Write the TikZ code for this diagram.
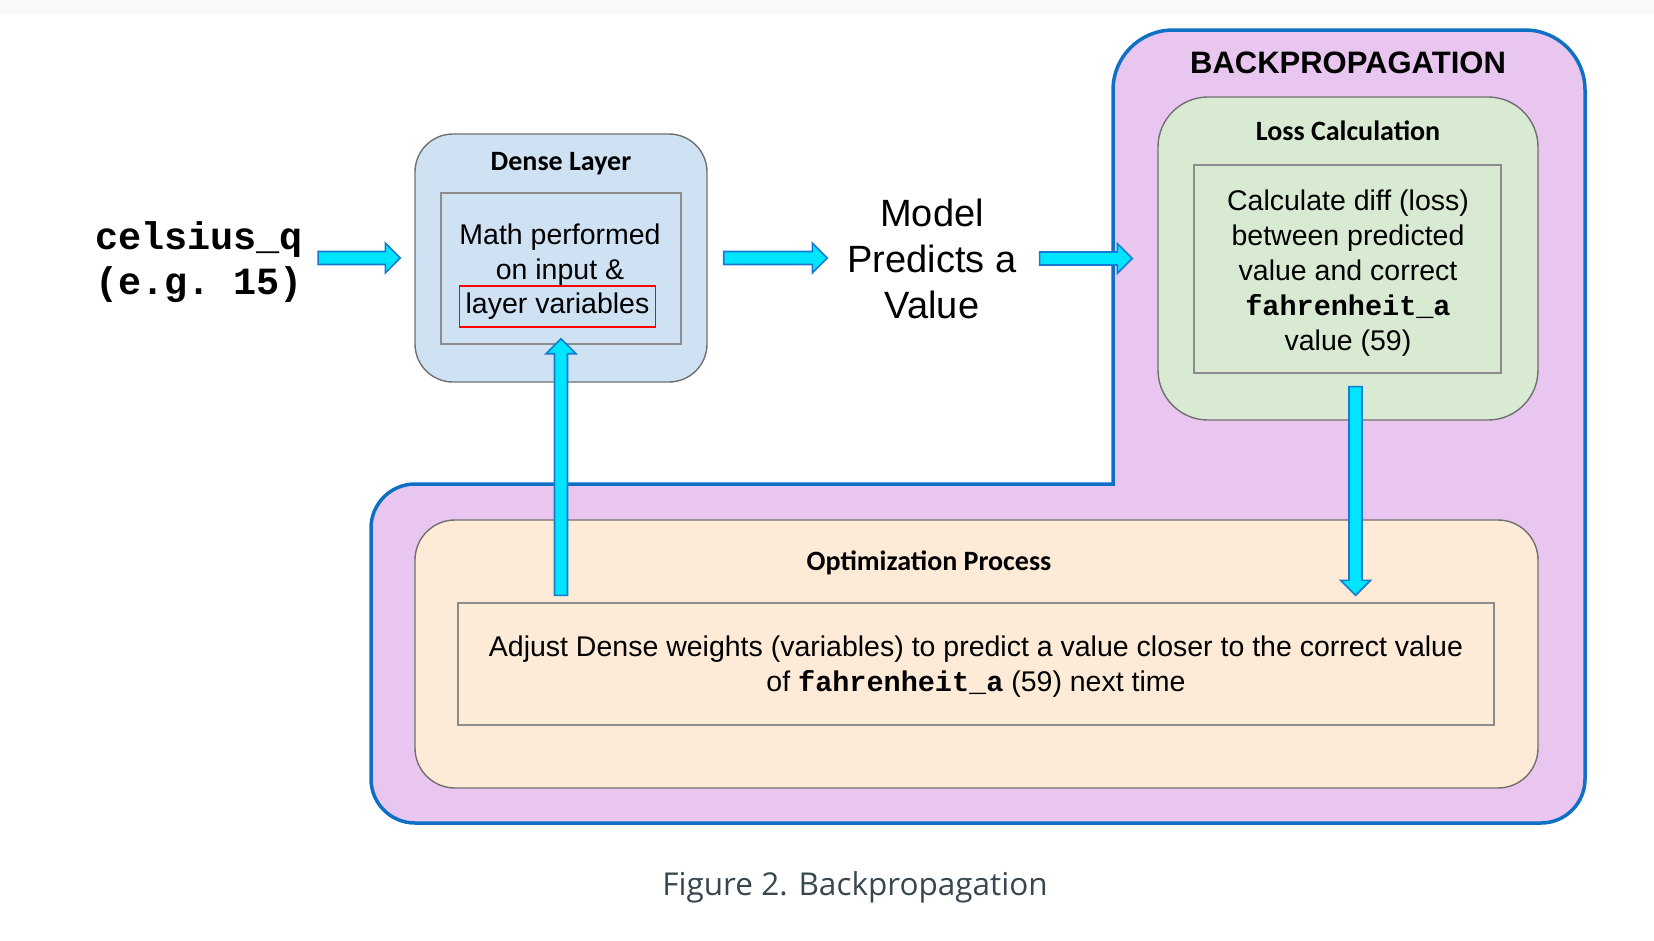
\documentclass[tikz,border=0pt]{standalone}
\usepackage{fontspec}
\setmainfont{Liberation Sans}
\setmonofont{Liberation Mono}
\newfontfamily\titlefont{Carlito}
\newfontfamily\capfont{Open Sans}
\usetikzlibrary{calc, positioning}

\definecolor{densefill}{RGB}{207,226,243}
\definecolor{lossfill}{RGB}{217,234,211}
\definecolor{optfill}{RGB}{253,235,215}
\definecolor{bpfill}{RGB}{233,198,240}
\definecolor{bpline}{RGB}{14,112,196}
\definecolor{arrowfill}{RGB}{0,229,255}
\definecolor{arrowline}{RGB}{22,122,210}
\definecolor{boxline}{RGB}{112,112,112}
\definecolor{inline}{RGB}{140,140,140}
\definecolor{capcol}{RGB}{55,71,79}
\definecolor{topstrip}{RGB}{249,249,249}

\begin{document}
\begin{tikzpicture}[x=1pt, y=-1pt,
        box/.style={draw=boxline, line width=1.4pt, rounded corners=#1},
        inbox/.style={draw=inline, line width=1.3pt},
        title/.style={inner sep=0pt, font=\titlefont\bfseries\fontsize{28}{34}\selectfont},
        body/.style={align=center, inner sep=0pt, font=\fontsize{28.5}{35}\selectfont},
        flow/.style={draw=arrowline, fill=arrowfill, line width=1.6pt, line join=miter},
        bigarrow/.style 2 args={to path={
                let \p1=($(\tikztostart)!#1!(\tikztotarget)$),
                    \p2=($(\tikztotarget)!#2!(\tikztostart)$),
                    \p3=($(\p2)!15pt!(\p1)$) in
                ($(\p1)!6.5pt!90:(\p2)$) -- ($(\p3)!6.5pt!90:(\p2)$) -- ($(\p3)!15pt!90:(\p2)$) -- (\p2)
                -- ($(\p3)!15pt!-90:(\p2)$) -- ($(\p3)!6.5pt!-90:(\p2)$) -- ($(\p1)!6.5pt!-90:(\p2)$) -- cycle}}
    ]
    \useasboundingbox (0,0) rectangle (1654,940);
    \fill[topstrip] (0,0) rectangle (1654,15);

    % backpropagation area
    \draw[fill=bpfill, draw=bpline, line width=3.5pt]
        (1113,300) [rounded corners=60pt] -- (1113,30) -- (1585,30) -- (1585,400)
        [rounded corners=44pt] -- (1585,823) -- (371,823) -- (371,484) -- (600,484)
        [sharp corners] -- (1113,484) -- cycle;
    \node[inner sep=0pt, font=\bfseries\fontsize{31}{36}\selectfont] (bptitle) at (1348,63) {BACKPROPAGATION};

    % input
    \node[align=center, inner sep=0pt, font=\ttfamily\bfseries\fontsize{38.5}{45}\selectfont] (celsius) at (199,262) {celsius\_q\\(e.g. 15)};

    % dense layer
    \node[box=38pt, fill=densefill, minimum width=292pt, minimum height=248pt] (dense) at (561,258) {};
    \node[title] (densetitle) at (561,164) {Dense Layer};
    \node[inbox, minimum width=240pt, minimum height=151pt] (densein) at (561,268.5) {};
    \node[body] (mathtxt) at (560,255) {Math performed\\on input \&};
    \node[body, draw=red, line width=1.5pt, inner xsep=6pt, minimum height=41pt] (vars) at (557.5,306.5) {layer variables};

    % prediction
    \node[align=center, inner sep=0pt, font=\fontsize{38}{46}\selectfont] (model) at (932,259) {Model\\Predicts a\\Value};

    % loss
    \node[box=50pt, fill=lossfill, minimum width=380pt, minimum height=323pt] (loss) at (1348,258.5) {};
    \node[title] (losstitle) at (1348,131) {Loss Calculation};
    \node[inbox, minimum width=307pt, minimum height=208pt] (lossin) at (1347.5,269) {};
    \node[body] (losstxt) at (1348,273) {Calculate diff (loss)\\between predicted\\value and correct\\\texttt{\textbf{fahrenheit\_a}}\\value (59)};

    % optimization
    \node[box=40pt, fill=optfill, minimum width=1123pt, minimum height=268pt] (opt) at (976.5,654) {};
    \node[title] (opttitle) at (929,563) {Optimization Process};
    \node[inbox, minimum width=1036pt, minimum height=122pt] (optin) at (976,664) {};
    \node[body] (opttxt) at (976,667) {Adjust Dense weights (variables) to predict a value closer to the correct value\\of \texttt{\textbf{fahrenheit\_a}} (59) next time};

    \node[inner sep=0pt, anchor=base, text=capcol, font=\capfont\fontsize{31.5}{36}\selectfont] (caption) at (855,895) {Figure 2. Backpropagation};

    % arrows
    \coordinate (lossout) at ([xshift=8pt]lossin.south);
    \draw[flow] (celsius.east |- dense.west) to[bigarrow={15pt}{14pt}] (dense.west);
    \draw[flow] (dense.east) to[bigarrow={16pt}{20pt}] (model.west |- dense.east);
    \draw[flow] (model.east |- loss.west) to[bigarrow={23pt}{25pt}] (loss.west);
    \draw[flow] (lossout) to[bigarrow={13pt}{7pt}] (lossout |- optin.north);
    \draw[flow] (densein.south |- optin.north) to[bigarrow={7pt}{11pt}] (densein.south |- vars.south);
\end{tikzpicture}
\end{document}
